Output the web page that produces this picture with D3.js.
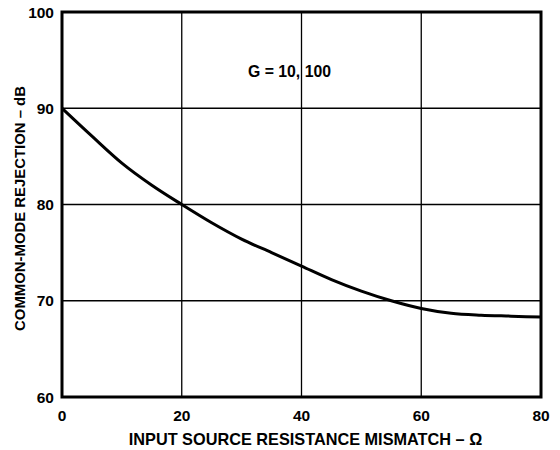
<!DOCTYPE html>
<html>
<head>
<meta charset="utf-8">
<script src="https://cdn.jsdelivr.net/npm/d3@7"></script>
<style>
  body { margin: 0; background: #fff; }
  text { font-family: "Liberation Sans", Arial, sans-serif; font-weight: bold; fill: #000; }
</style>
</head>
<body>
<div id="chart"></div>
<script>
// source resistance mismatch (ohms) vs CMR (dB)
const mismatch = [0, 5, 10, 15, 20, 25, 30, 35, 40, 45, 50, 55, 60, 65, 70, 75, 80];
const cmr = [90, 87.1, 84.3, 82.0, 80.0, 78.1, 76.4, 75.0, 73.6, 72.2, 71.0, 70.0, 69.2, 68.7, 68.5, 68.4, 68.3];
const xTicks = [0, 20, 40, 60, 80];
const yTicks = [60, 70, 80, 90, 100];

function init() {
    const width = 560;
    const height = 450;
    const margin = { top: 12, right: 19, bottom: 53, left: 62 };

    const svg = d3.select("#chart")
        .append("svg")
        .attr("width", width)
        .attr("height", height);

    const x = d3.scaleLinear().domain([0, 80]).range([margin.left, width - margin.right]);
    const y = d3.scaleLinear().domain([60, 100]).range([height - margin.bottom, margin.top]);

    const g = svg.append("g");

    // grid
    g.selectAll(".vgrid")
        .data(xTicks.slice(1, -1))
        .enter().append("line")
        .attr("x1", d => x(d)).attr("x2", d => x(d))
        .attr("y1", y(60)).attr("y2", y(100))
        .attr("stroke", "#000").attr("stroke-width", 1.3);

    g.selectAll(".hgrid")
        .data(yTicks.slice(1, -1))
        .enter().append("line")
        .attr("x1", x(0)).attr("x2", x(80))
        .attr("y1", d => y(d)).attr("y2", d => y(d))
        .attr("stroke", "#000").attr("stroke-width", 1.3);

    // curve
    const line = d3.line()
        .x((d, i) => x(mismatch[i]))
        .y(d => y(d))
        .curve(d3.curveMonotoneX);

    g.append("path")
        .datum(cmr)
        .attr("d", line)
        .attr("fill", "none")
        .attr("stroke", "#000")
        .attr("stroke-width", 3);

    // frame
    g.append("rect")
        .attr("x", x(0)).attr("y", y(100))
        .attr("width", x(80) - x(0)).attr("height", y(60) - y(100))
        .attr("fill", "none")
        .attr("stroke", "#000")
        .attr("stroke-width", 3);

    // tick labels
    g.selectAll(".xlab")
        .data(xTicks)
        .enter().append("text")
        .attr("x", d => x(d))
        .attr("y", y(60) + 24)
        .attr("text-anchor", "middle")
        .attr("font-size", 15.5)
        .text(d => d);

    g.selectAll(".ylab")
        .data(yTicks)
        .enter().append("text")
        .attr("x", x(0) - 8)
        .attr("y", d => y(d) + 5.5)
        .attr("text-anchor", "end")
        .attr("font-size", 15.5)
        .text(d => d);

    // axis titles
    svg.append("text")
        .attr("x", (x(0) + x(80)) / 2 + 4)
        .attr("y", 445)
        .attr("text-anchor", "middle")
        .attr("font-size", 16.3)
        .text("INPUT SOURCE RESISTANCE MISMATCH – Ω");

    svg.append("text")
        .attr("transform", "translate(25," + ((y(60) + y(100)) / 2 + 4) + ") rotate(-90)")
        .attr("text-anchor", "middle")
        .attr("font-size", 14.9)
        .text("COMMON-MODE REJECTION – dB");

    svg.append("text")
        .attr("x", 248)
        .attr("y", 77)
        .attr("font-size", 15.8)
        .text("G = 10, 100");
}

window.onload = init;
</script>
</body>
</html>
